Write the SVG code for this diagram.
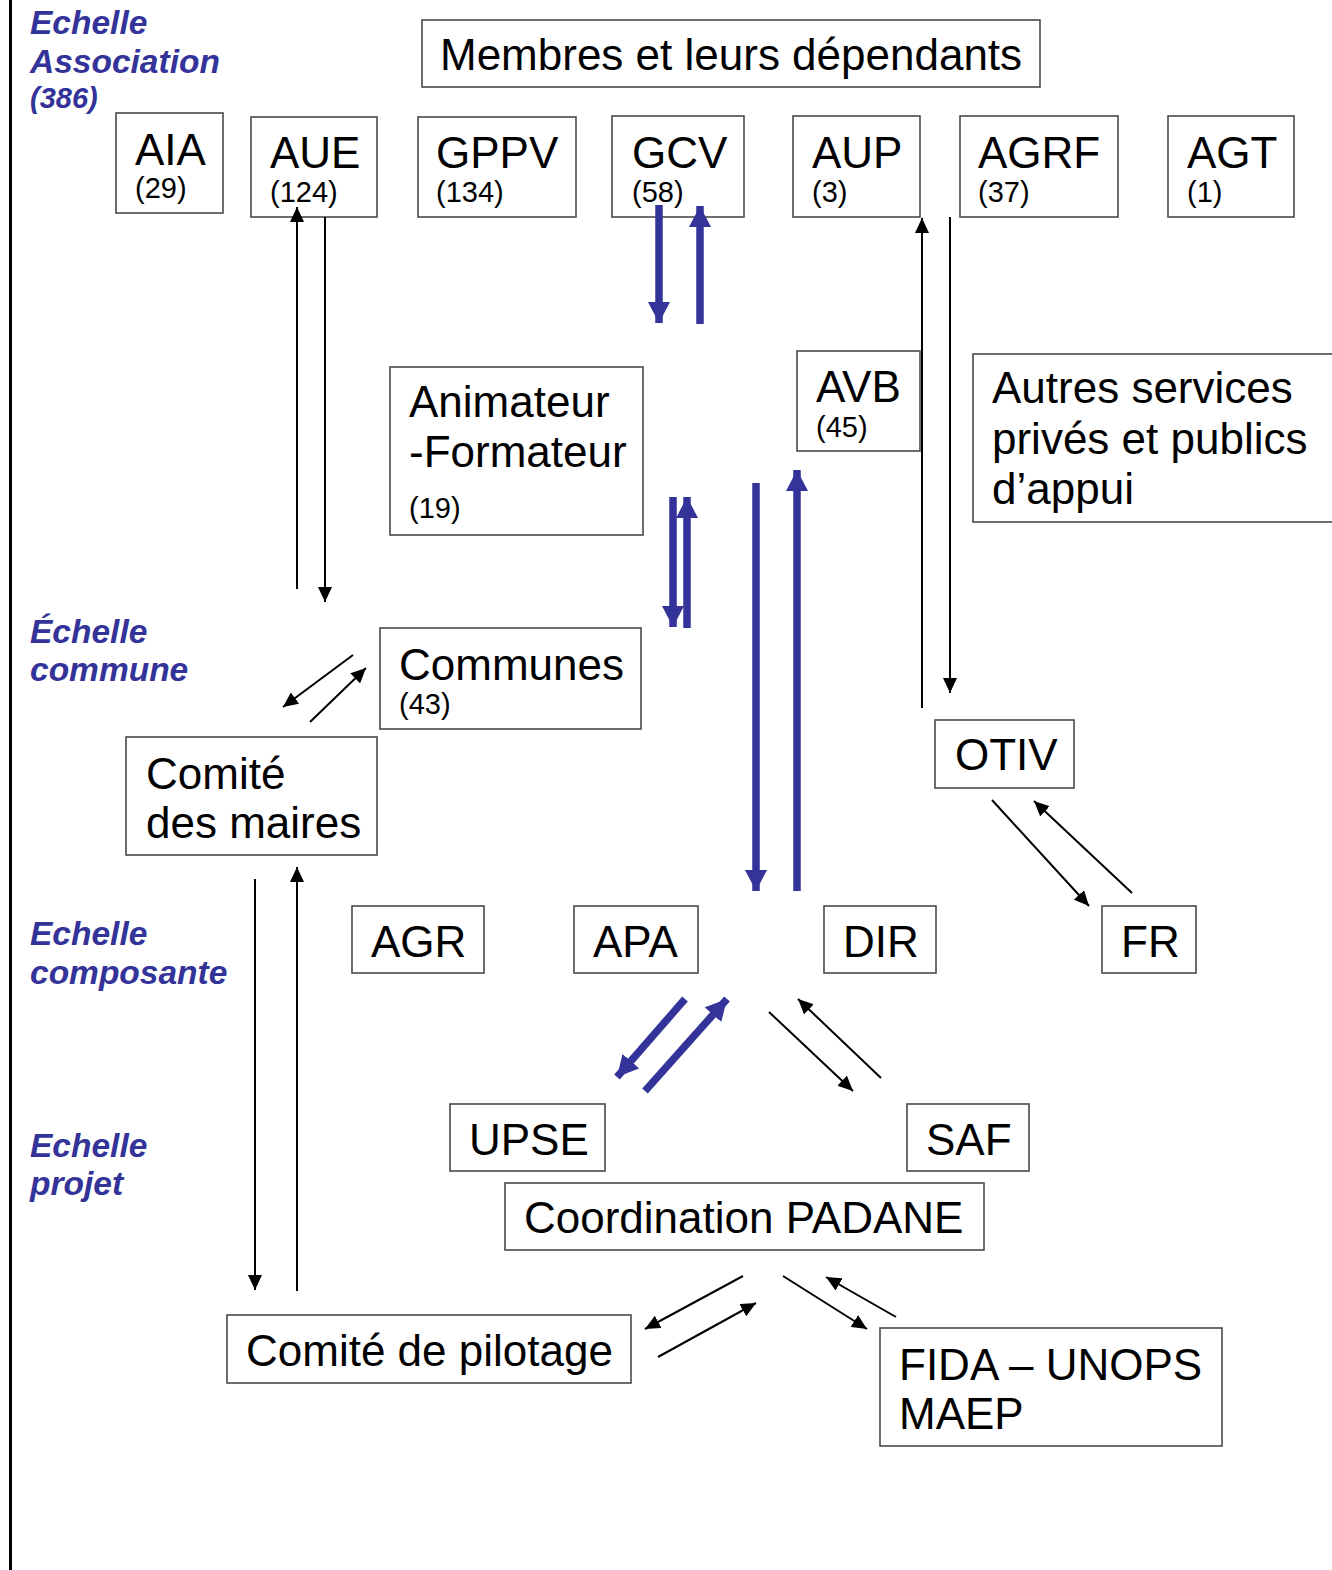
<svg xmlns="http://www.w3.org/2000/svg" width="1332" height="1570" viewBox="0 0 1332 1570">
<style>
.box{fill:#fff;stroke:#4a4a4a;stroke-width:1.6}
.t{font-family:"Liberation Sans",Arial,sans-serif;font-size:44px;fill:#000}
.s{font-family:"Liberation Sans",Arial,sans-serif;font-size:29px;fill:#000}
.h{font-family:"Liberation Sans",Arial,sans-serif;font-size:33.5px;font-weight:bold;font-style:italic;fill:#333399}
.k{stroke:#000;stroke-width:2;fill:none;marker-end:url(#ak)}
.b{stroke:#333399;stroke-width:7.5;fill:none;marker-end:url(#ab)}
</style>
<defs>
<marker id="ak" markerUnits="userSpaceOnUse" markerWidth="15" markerHeight="14" refX="15" refY="7" orient="auto"><path d="M0,0 L15,7 L0,14 z" fill="#000"/></marker>
<marker id="ab" markerUnits="userSpaceOnUse" markerWidth="21" markerHeight="22" refX="21" refY="11" orient="auto"><path d="M0,0 L21,11 L0,22 z" fill="#333399"/></marker>
</defs>
<rect width="1332" height="1570" fill="#fff"/>
<line x1="10.5" y1="0" x2="10.5" y2="1570" stroke="#000" stroke-width="3"/>

<g id="labels">
<text class="h" x="30" y="34">Echelle</text>
<text class="h" x="30" y="73">Association</text>
<text class="h" x="30" y="108" style="font-size:29px">(386)</text>
<text class="h" x="30" y="643">Échelle</text>
<text class="h" x="30" y="681">commune</text>
<text class="h" x="30" y="945">Echelle</text>
<text class="h" x="30" y="984">composante</text>
<text class="h" x="30" y="1157">Echelle</text>
<text class="h" x="30" y="1195">projet</text>
</g>

<g id="membres"><rect class="box" x="422" y="20" width="618" height="67"/><text class="t" x="440" y="70">Membres et leurs dépendants</text></g>
<g id="aia"><rect class="box" x="116" y="113" width="107" height="100"/><text class="t" x="135" y="165">AIA</text><text class="s" x="135" y="198">(29)</text></g>
<g id="aue"><rect class="box" x="251" y="117" width="126" height="100"/><text class="t" x="270" y="168">AUE</text><text class="s" x="270" y="202">(124)</text></g>
<g id="gppv"><rect class="box" x="418" y="117" width="158" height="100"/><text class="t" x="436" y="168">GPPV</text><text class="s" x="436" y="202">(134)</text></g>
<g id="gcv"><rect class="box" x="612" y="116" width="132" height="101"/><text class="t" x="632" y="168">GCV</text><text class="s" x="632" y="202">(58)</text></g>
<g id="aup"><rect class="box" x="793" y="116" width="127" height="101"/><text class="t" x="812" y="168">AUP</text><text class="s" x="812" y="202">(3)</text></g>
<g id="agrf"><rect class="box" x="960" y="116" width="158" height="101"/><text class="t" x="978" y="168">AGRF</text><text class="s" x="978" y="202">(37)</text></g>
<g id="agt"><rect class="box" x="1168" y="116" width="126" height="101"/><text class="t" x="1187" y="168">AGT</text><text class="s" x="1187" y="202">(1)</text></g>
<g id="animateur"><rect class="box" x="390" y="367" width="253" height="168"/><text class="t" x="409" y="417">Animateur</text><text class="t" x="409" y="467">-Formateur</text><text class="s" x="409" y="518">(19)</text></g>
<g id="avb"><rect class="box" x="797" y="351" width="123" height="100"/><text class="t" x="816" y="402">AVB</text><text class="s" x="816" y="437">(45)</text></g>
<g id="autres"><rect class="box" x="973" y="354" width="380" height="168"/><text class="t" x="992" y="403">Autres services</text><text class="t" x="992" y="454">privés et publics</text><text class="t" x="992" y="504">d’appui</text></g>
<g id="communes"><rect class="box" x="380" y="628" width="261" height="101"/><text class="t" x="399" y="680">Communes</text><text class="s" x="399" y="714">(43)</text></g>
<g id="comite-maires"><rect class="box" x="126" y="737" width="251" height="118"/><text class="t" x="146" y="789">Comité</text><text class="t" x="146" y="838">des maires</text></g>
<g id="otiv"><rect class="box" x="935" y="720" width="139" height="68"/><text class="t" x="955" y="770">OTIV</text></g>
<g id="agr"><rect class="box" x="352" y="906" width="132" height="67"/><text class="t" x="371" y="957">AGR</text></g>
<g id="apa"><rect class="box" x="574" y="906" width="124" height="67"/><text class="t" x="593" y="957">APA</text></g>
<g id="dir"><rect class="box" x="824" y="906" width="112" height="67"/><text class="t" x="843" y="957">DIR</text></g>
<g id="fr"><rect class="box" x="1102" y="906" width="94" height="67"/><text class="t" x="1121" y="957">FR</text></g>
<g id="upse"><rect class="box" x="450" y="1104" width="155" height="67"/><text class="t" x="469" y="1155">UPSE</text></g>
<g id="saf"><rect class="box" x="907" y="1104" width="122" height="67"/><text class="t" x="926" y="1155">SAF</text></g>
<g id="coordination"><rect class="box" x="505" y="1183" width="479" height="67"/><text class="t" x="524" y="1233">Coordination PADANE</text></g>
<g id="pilotage"><rect class="box" x="227" y="1315" width="404" height="68"/><text class="t" x="246" y="1366">Comité de pilotage</text></g>
<g id="fida"><rect class="box" x="880" y="1328" width="342" height="118"/><text class="t" x="899" y="1380">FIDA – UNOPS</text><text class="t" x="899" y="1429">MAEP</text></g>

<g id="connectors">
<line class="k" x1="297" y1="589" x2="297" y2="207"/>
<line class="k" x1="325" y1="217" x2="325" y2="602"/>
<line class="k" x1="922" y1="708" x2="922" y2="218"/>
<line class="k" x1="950" y1="217" x2="950" y2="693"/>
<line class="k" x1="353" y1="655" x2="283" y2="707"/>
<line class="k" x1="310" y1="722" x2="366" y2="668"/>
<line class="k" x1="255" y1="879" x2="255" y2="1290"/>
<line class="k" x1="297" y1="1291" x2="297" y2="867"/>
<line class="k" x1="992" y1="800" x2="1089" y2="906"/>
<line class="k" x1="1132" y1="893" x2="1034" y2="801"/>
<line class="k" x1="769" y1="1012" x2="853" y2="1091"/>
<line class="k" x1="881" y1="1078" x2="798" y2="999"/>
<line class="k" x1="743" y1="1276" x2="645" y2="1329"/>
<line class="k" x1="658" y1="1357" x2="756" y2="1303"/>
<line class="k" x1="783" y1="1276" x2="867" y2="1329"/>
<line class="k" x1="896" y1="1317" x2="826" y2="1277"/>
<line class="b" x1="659" y1="205" x2="659" y2="323"/>
<line class="b" x1="700" y1="324" x2="700" y2="206"/>
<line class="b" x1="673" y1="497" x2="673" y2="627"/>
<line class="b" x1="687" y1="628" x2="687" y2="497"/>
<line class="b" x1="756" y1="483" x2="756" y2="891"/>
<line class="b" x1="797" y1="891" x2="797" y2="470"/>
<line class="b" x1="685" y1="999" x2="617" y2="1077"/>
<line class="b" x1="645" y1="1091" x2="727" y2="999"/>
</g>
</svg>
